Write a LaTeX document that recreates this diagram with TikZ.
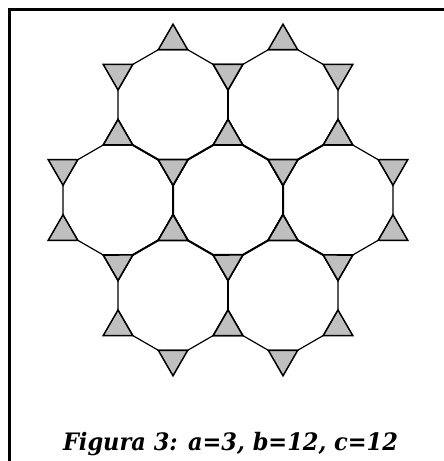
\documentclass[tikz,border=0pt]{standalone}
\usepackage{fontspec}
\newfontfamily\capfont{DejaVu Serif}
\usetikzlibrary{calc}
\begin{document}
\begin{tikzpicture}[x=1pt,y=1pt,
  edge/.style={line width=1.2pt, line join=round},
  thickedge/.style={line width=2pt, line cap=round, line join=round},
  tri/.style={fill=black!25, draw=black, line width=1.5pt, line join=miter},
  frame/.style={line width=2.6pt},
  caption/.style={font=\capfont\fontsize{24}{28}\selectfont\bfseries\itshape, inner sep=0pt, anchor=base}]
\useasboundingbox (0,0) rectangle (444,461);
\fill[white] (0,0) rectangle (444,461);
\def\rr{55}
\def\RR{56.94}
\def\hh{25.52}
% dodecagon centres
\coordinate (c0) at (228,261);
\foreach \p [count=\i] in {0,60,120,180,240,300}{
  \coordinate (c\i) at ($(c0)+(\p:110)$);
}
% dodecagons
\foreach \i in {0,...,6}{
  \draw[edge,shift={(c\i)}] (15:\RR) \foreach \k in {1,...,11}{ -- ({15+30*\k}:\RR)} -- cycle;
}
% heavier shared edges
\draw[thickedge,shift={(c0)}] (15:\RR) \foreach \k in {1,...,11}{ -- ({15+30*\k}:\RR)} -- cycle;
\foreach \p [count=\i] in {0,60,120,180,240,300}{
  \draw[thickedge,shift={(c\i)}] ({\p+105}:\RR) -- ({\p+135}:\RR);
}
% triangles
\foreach \i in {0,...,6}{
  \foreach \t in {30,90,150,210,270,330}{
    \filldraw[tri,shift={(c\i)}] ({\t-15}:\RR) -- ({\t+15}:\RR) -- (\t:{\rr+\hh}) -- cycle;
  }
}
% frame
\draw[frame] (9.7,-5) -- (9.7,451.3) -- (450,451.3);
% caption
\node[caption] (cap) at (230.5,10) {\scalebox{0.936}[1]{Figura 3: a=3, b=12, c=12}};
\end{tikzpicture}
\end{document}
